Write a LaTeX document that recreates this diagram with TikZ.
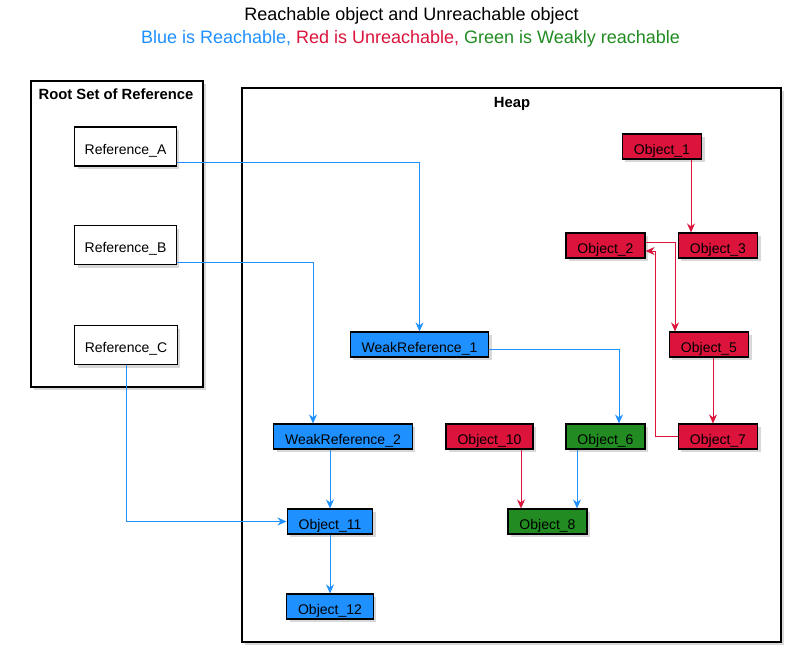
\documentclass[tikz,border=0pt]{standalone}
\usepackage{fontspec}
\setmainfont{Liberation Sans}
\usetikzlibrary{arrows.meta,shadows}
\definecolor{reach}{HTML}{1E90FF}
\definecolor{unreach}{HTML}{DC143C}
\definecolor{weak}{HTML}{228B22}
\begin{document}
\begin{tikzpicture}[x=1pt,y=-1pt,
    box/.style={draw=black,line width=1.2pt,
        drop shadow={shadow xshift=3pt,shadow yshift=-3pt,opacity=0.3}},
    obj/.style={box,inner xsep=11.5pt,inner ysep=0pt,minimum height=25pt,
        text height=16pt,text depth=0pt,font=\fontsize{14}{16}\selectfont},
    refbox/.style={obj,fill=white,inner xsep=10pt,minimum height=39pt,text height=15pt},
    blueobj/.style={obj,fill=reach},
    redobj/.style={obj,fill=unreach},
    greenobj/.style={obj,fill=weak},
    grouplabel/.style={anchor=base,font=\fontsize{14.8}{17}\selectfont\bfseries},
    link/.style={line width=0.9pt,-{Stealth[length=9pt,width=8pt,inset=3pt]}},
    bluelink/.style={link,draw=reach},
    redlink/.style={link,draw=unreach}]
    \useasboundingbox[fill=white] (0,0) rectangle (791,653);
    \node[anchor=base] (title) at (411.5,20) {\fontsize{18}{20}\selectfont Reachable object and Unreachable object};
    \node[anchor=base] (subtitle) at (410.5,43.5) {\fontsize{18}{20}\selectfont
        {\color{reach}Blue is Reachable,} {\color{unreach}Red is Unreachable,} {\color{weak}Green is Weakly reachable}};
    \path[box,fill=white] (31,81) rectangle (203,387);
    \node[grouplabel] (rootlabel) at (116,99.5) {Root Set of Reference};
    \path[box,fill=white] (242,88) rectangle (781,642);
    \node[grouplabel] (heaplabel) at (512,107) {Heap};
    \node[refbox] (refA) at (125.5,146.5) {Reference\_A};
    \node[refbox] (refB) at (125.5,245) {Reference\_B};
    \node[refbox] (refC) at (126,345) {Reference\_C};
    \node[redobj] (obj1) at (662,146.5) {Object\_1};
    \node[redobj] (obj2) at (605.5,245.5) {Object\_2};
    \node[redobj] (obj3) at (718,245.5) {Object\_3};
    \node[redobj] (obj5) at (709,344.5) {Object\_5};
    \node[redobj] (obj7) at (718,436.5) {Object\_7};
    \node[greenobj] (obj6) at (605.5,436.5) {Object\_6};
    \node[blueobj] (weak1) at (419.5,344.5) {WeakReference\_1};
    \node[blueobj] (weak2) at (343,436.5) {WeakReference\_2};
    \node[redobj] (obj10) at (489.5,436.5) {Object\_10};
    \node[blueobj] (obj11) at (330,521.5) {Object\_11};
    \node[blueobj] (obj12) at (330,606.5) {Object\_12};
    \node[greenobj] (obj8) at (547.5,521.5) {Object\_8};
    \draw[bluelink] ([yshift=-16pt]refA.east) -| (weak1.north);
    \draw[bluelink] ([yshift=-17pt]refB.east) -| ([xshift=-30pt]weak2.north);
    \draw[bluelink] (refC.south) |- (obj11.west);
    \draw[bluelink] ([yshift=-4.5pt]weak1.east) -| ([xshift=13.5pt]obj6.north);
    \draw[bluelink] ([xshift=-13pt]weak2.south) -- (obj11.north);
    \draw[bluelink] (obj11.south) -- (obj12.north);
    \draw[bluelink] ([xshift=-28.5pt]obj6.south) -- ([xshift=29.5pt]obj8.north);
    \draw[redlink] ([xshift=31.5pt]obj10.south) -- ([xshift=-26.5pt]obj8.north);
    \draw[redlink] ([xshift=29pt]obj1.south) -- ([xshift=-27pt]obj3.north);
    \draw[redlink] ([yshift=3.5pt]obj2.east) -| ([xshift=-34pt]obj5.north);
    \draw[redlink] ([xshift=4pt]obj5.south) -- ([xshift=-5pt]obj7.north);
    \draw[redlink] (obj7.west) -- ++(-22,0) |- ([yshift=-5.5pt]obj2.east);
\end{tikzpicture}
\end{document}
